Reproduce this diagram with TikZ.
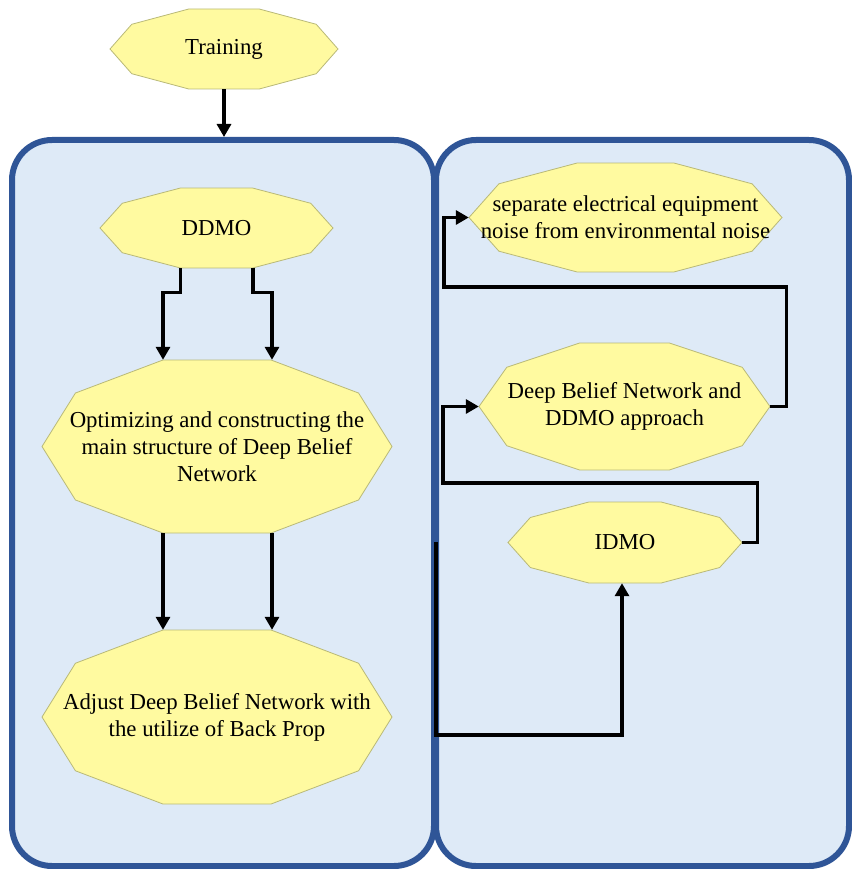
\documentclass[tikz,border=0pt]{standalone}
\usepackage{fontspec}
\setmainfont{Liberation Serif}
\usetikzlibrary{arrows.meta,calc}
\definecolor{panelfill}{RGB}{222,234,247}
\definecolor{panelline}{RGB}{47,85,151}
\definecolor{decafill}{RGB}{255,250,160}
\definecolor{decaline}{RGB}{185,185,120}
\tikzset{
 panel/.style={draw=panelline, fill=panelfill, line width=6pt, rounded corners=40pt, inner sep=0pt},
 decashape/.style={draw=decaline, fill=decafill, line width=0.8pt},
 decatext/.style={inner sep=0pt, align=center, font=\fontsize{22.8}{27}\selectfont},
 arr/.style={line width=3.2pt, -{Triangle[length=13pt,width=14pt]}},
}
\newcommand{\decanode}[6]{%
 \draw[decashape] plot[samples at={0,36,...,324}] ({#2+#4*cos(\x)},{#3+#5/0.9511*sin(\x)}) -- cycle;
 \node[decatext, minimum width={2*#4pt}, minimum height={2*#5pt}] (#1) at (#2,#3) {#6};}
\begin{document}
\begin{tikzpicture}[x=1pt,y=-1pt]
\useasboundingbox (0,0) rectangle (851,869);
% panels
\node[panel, minimum width=422pt, minimum height=726pt] (lp) at (223,503) {};
\node[panel, minimum width=413pt, minimum height=726pt] (rp) at (642.5,503) {};
% shapes
\decanode{train}{224}{49}{114}{40}{Training}
\decanode{ddmo}{216.5}{228}{116.5}{40}{DDMO}
\decanode{opt}{217}{446.5}{175}{86.5}{Optimizing and constructing the\\main structure of Deep Belief\\Network}
\decanode{adj}{217}{717}{175}{87}{Adjust Deep Belief Network with\\the utilize of Back Prop}
\decanode{sep}{625.5}{217.5}{156.5}{54.5}{separate electrical equipment\\noise from environmental noise}
\decanode{dbn}{624.5}{406.5}{145.5}{63.5}{Deep Belief Network and\\DDMO approach}
\decanode{idmo}{625}{542.5}{117}{40.5}{IDMO}
% connectors
\draw[arr] (train.south) -- (train.south |- lp.north);
\draw[arr] ([xshift=-36pt]ddmo.south) -- ++(0,24) -| ([xshift=-54pt]opt.north);
\draw[arr] ([xshift=36.5pt]ddmo.south) -- ++(0,24) -| ([xshift=55pt]opt.north);
\draw[arr] ([xshift=-54pt]opt.south) -- ([xshift=-54pt]adj.north);
\draw[arr] ([xshift=55pt]opt.south) -- ([xshift=55pt]adj.north);
\coordinate (c1) at (444,287);
\coordinate (c2) at (443,483);
\coordinate (s) at (436,542);
\coordinate (c3) at (436,735);
\draw[arr] (dbn.east) -- ++(16,0) |- (c1) |- (sep.west);
\draw[arr] (idmo.east) -- ++(15,0) |- (c2) |- (dbn.west);
\draw[arr] (s) -- (c3) -| ([xshift=-3pt]idmo.south);
\end{tikzpicture}
\end{document}
